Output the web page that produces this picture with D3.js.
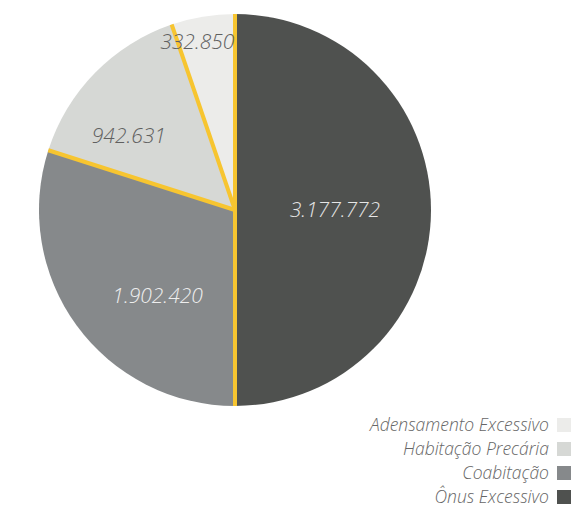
<!DOCTYPE html>
<html>
<head>
<meta charset="utf-8">
<script src="https://cdn.jsdelivr.net/npm/d3@7"></script>
<style>
  html, body { margin: 0; padding: 0; background: #fff; }
  svg { display: block; }
  text { font-family: "Open Sans", "Segoe UI", sans-serif; font-style: italic; }
</style>
</head>
<body>
<svg id="chart" width="582" height="507"></svg>
<script>
// Housing deficit components (clockwise from 12 o'clock)
const categories = ["Ônus Excessivo", "Coabitação", "Habitação Precária", "Adensamento Excessivo"];
const values = [3177772, 1902420, 942631, 332850];
const valueLabels = ["3.177.772", "1.902.420", "942.631", "332.850"];
const colors = ["#4f514f", "#86898b", "#d6d8d5", "#ececea"];
const labelColors = ["#e6e6e6", "#eeeeee", "#606060", "#606060"];
// Legend order (top to bottom)
const legendOrder = ["Adensamento Excessivo", "Habitação Precária", "Coabitação", "Ônus Excessivo"];

const svg = d3.select("#chart");
const cx = 235, cy = 210, radius = 196;

const pie = d3.pie().sort(null).value(d => d.value);
const arcs = pie(categories.map((c, i) => ({ name: c, value: values[i], label: valueLabels[i], color: colors[i], lc: labelColors[i] })));

const arc = d3.arc().innerRadius(0).outerRadius(radius);
const g = svg.append("g").attr("transform", `translate(${cx},${cy})`);

g.selectAll("path.slice")
  .data(arcs)
  .join("path")
  .attr("class", "slice")
  .attr("d", arc)
  .attr("fill", d => d.data.color);

// Yellow separators along each slice boundary
g.selectAll("line.sep")
  .data(arcs)
  .join("line")
  .attr("class", "sep")
  .attr("x1", 0).attr("y1", 0)
  .attr("x2", d => radius * Math.sin(d.startAngle))
  .attr("y2", d => -radius * Math.cos(d.startAngle))
  .attr("stroke", "#f7c530")
  .attr("stroke-width", 4);

// Value labels: position within each slice as (angle fraction, radius fraction)
const labelPlace = [[0.5, 0.51], [0.39, 0.59], [0.32, 0.66], [0.33, 0.88]];
g.selectAll("text.val")
  .data(arcs)
  .join("text")
  .attr("class", "val")
  .attr("transform", (d, i) => {
    const [t, rf] = labelPlace[i];
    const a = d.startAngle + (d.endAngle - d.startAngle) * t;
    const r = radius * rf;
    return `translate(${r * Math.sin(a)},${-r * Math.cos(a)})`;
  })
  .attr("text-anchor", "middle")
  .attr("dy", "0.35em")
  .attr("font-size", 21)
  .attr("font-weight", 300)
  .attr("fill", d => d.data.lc)
  .text(d => d.data.label);

// Legend, right-aligned in the bottom-right corner
const yLegend = d3.scaleBand().domain(legendOrder).range([414, 510]);
const legend = svg.append("g");
const items = legend.selectAll("g.item")
  .data(legendOrder)
  .join("g")
  .attr("class", "item")
  .attr("transform", d => `translate(0,${yLegend(d) + yLegend.bandwidth() / 2 - 1})`);

items.append("text")
  .attr("x", 549)
  .attr("dy", "0.35em")
  .attr("text-anchor", "end")
  .attr("font-size", 17.5)
  .attr("font-weight", 300)
  .attr("fill", "#666")
  .text(d => d);

items.append("rect")
  .attr("x", 557)
  .attr("y", -7)
  .attr("width", 14)
  .attr("height", 14)
  .attr("fill", d => colors[categories.indexOf(d)]);
</script>
</body>
</html>
